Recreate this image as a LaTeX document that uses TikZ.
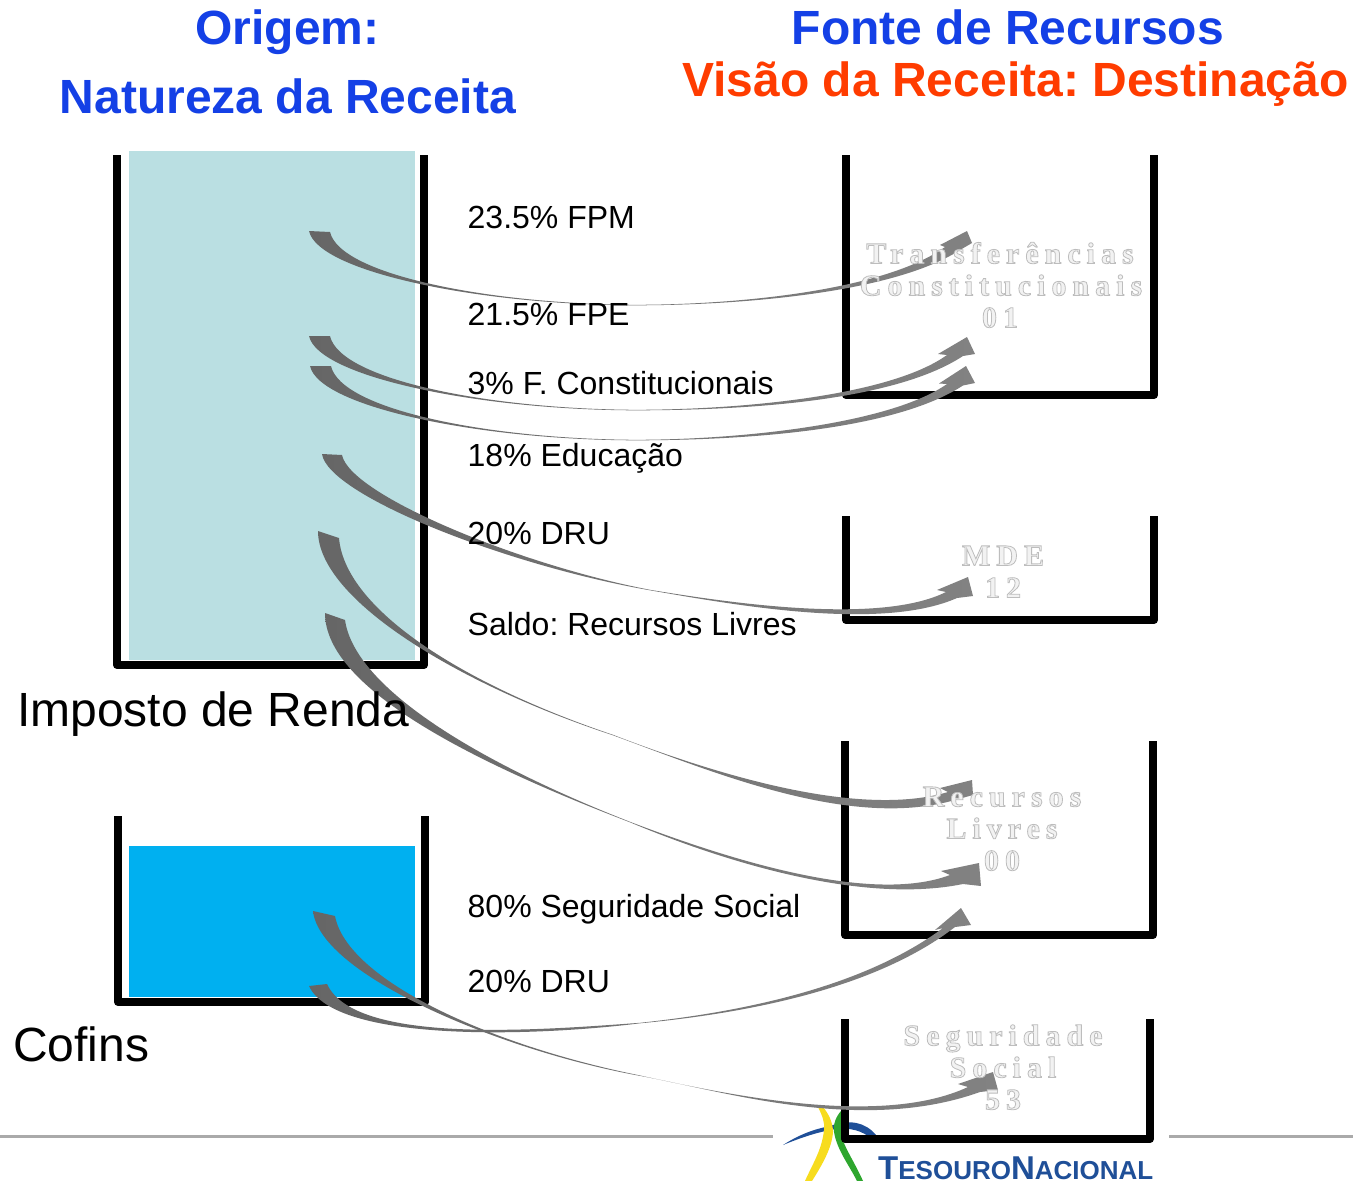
\documentclass[tikz,border=0pt]{standalone}
\usepackage{fontspec}
\setmainfont{Liberation Sans}
\newfontfamily\fundfam{Liberation Serif}[LetterSpace=20]
\AtBeginDocument{\frenchspacing}
\definecolor{titleblue}{HTML}{1440E6}
\definecolor{titlered}{HTML}{FF3C00}
\definecolor{tealfill}{HTML}{BADFE2}
\definecolor{cyanfill}{HTML}{00B0F0}
\definecolor{flowdark}{HTML}{666666}
\definecolor{flowlight}{HTML}{828282}
\definecolor{rulegray}{HTML}{AAAAAA}
\definecolor{logoblue}{HTML}{1F4F98}
\definecolor{logoyellow}{HTML}{F7DC1E}
\definecolor{logogreen}{HTML}{2EA62E}
\newcommand{\embossed}[1]{\special{pdf:code 2 Tr 0.8 w 0.74 G 0.95 g}#1\special{pdf:code 0 Tr 0 G 0 g}}
\tikzset{
  x=1pt,y=-1pt,
  bucket/.style={draw=black,line width=8pt,line join=round,line cap=butt,fill=none},
  flow/.style={left color=flowdark,right color=flowlight,draw=none},
  titletext/.style={anchor=base,inner sep=0pt,font=\fontsize{48}{48}\bfseries\selectfont},
  bigtext/.style={anchor=base west,inner sep=0pt,font=\fontsize{48}{48}\selectfont},
  share/.style={anchor=base west,inner sep=0pt,font=\fontsize{32}{32}\selectfont},
  fundo/.style={anchor=base,inner sep=0pt,font=\fundfam\bfseries\fontsize{30}{32}\selectfont},
}
\begin{document}
\begin{tikzpicture}
\useasboundingbox (0,0) rectangle (1353,1181);
\fill[white] (0,0) rectangle (1353,1181);
% fills
\fill[tealfill] (129,151) rectangle (415,660);
\fill[cyanfill] (129,846) rectangle (415,997);
% footer
\draw[rulegray,line width=3pt] (0,1136) -- (773,1136);
\draw[rulegray,line width=3pt] (1169,1136) -- (1353,1136);
% logo
\fill[logoblue] (783,1145) .. controls (800,1134) and (815,1129) .. (830,1126) .. controls (850,1119) and (865,1122) .. (876,1135) -- (868,1136) .. controls (858,1129) and (845,1127) .. (830,1130) .. controls (815,1133) and (800,1138) .. cycle;
\fill[logoyellow] (818,1107) .. controls (822,1115) and (825,1122) .. (824,1130) .. controls (822,1150) and (812,1165) .. (805,1181) -- (812,1181) .. controls (822,1165) and (832,1148) .. (833,1132) .. controls (833,1122) and (828,1113) .. (823,1107) -- cycle;
\fill[logogreen] (842,1110) .. controls (836,1116) and (833,1124) .. (834,1132) .. controls (837,1150) and (849,1165) .. (857,1181) -- (863,1181) .. controls (856,1165) and (846,1150) .. (842,1138) .. controls (840,1128) and (841,1120) .. (845,1112) -- cycle;
\node[anchor=base west,inner sep=0pt,text=logoblue,font=\bfseries] (logotext) at (878,1179) {\fontsize{33}{34}\selectfont T\fontsize{26}{27}\selectfont ESOURO\fontsize{33}{34}\selectfont N\fontsize{26}{27}\selectfont ACIONAL};
% buckets
\draw[bucket] (117,155) -- (117,665) -- (424,665) -- (424,155);
\draw[bucket] (118,816) -- (118,1002) -- (425,1002) -- (425,816);
\draw[bucket] (846,155) -- (846,395) -- (1154,395) -- (1154,155);
\draw[bucket] (846,516) -- (846,620) -- (1154,620) -- (1154,516);
\draw[bucket] (845,741) -- (845,935) -- (1153,935) -- (1153,741);
\draw[bucket] (845,1019) -- (845,1139) -- (1150,1139) -- (1150,1019);
% flows
\path[flow] (309,231) .. controls (318,272) and (480,305) .. (635,305.3) .. controls (730,305.3) and (890,295) .. (960,250) -- (972,243) -- (967,231) -- (940,245) -- (945,247) .. controls (885,290) and (740,304.8) .. (635,304.8) .. controls (490,304) and (340,275) .. (330,232) -- cycle;
\path[flow] (309,336) .. controls (318,377) and (480,410) .. (635,410.3) .. controls (730,410.3) and (890,404) .. (963,356) -- (975,354) -- (967,337) -- (938,354) -- (947,355) .. controls (890,396) and (740,409.8) .. (635,409.8) .. controls (490,409) and (340,380) .. (330,336) -- cycle;
\path[flow] (310,366) .. controls (319,407) and (480,440) .. (635,440.3) .. controls (730,440.3) and (890,433) .. (963,385.5) -- (975,383) -- (966,366) -- (939,383.5) -- (947,384) .. controls (890,424) and (740,439.8) .. (635,439.8) .. controls (490,439) and (341,410) .. (331,366) -- cycle;
\path[flow] (322,454) .. controls (328,495) and (505,565) .. (650,590.3) .. controls (730,604) and (880,632) .. (957,598) -- (973,596) -- (968,577) -- (937,590) -- (946,592) .. controls (880,625) and (730,603) .. (650,589.8) .. controls (520,565) and (350,495) .. (342,455) -- cycle;
\path[flow] (318,531) .. controls (318,600) and (460,685) .. (613,735.3) .. controls (713,772) and (850,830) .. (955,800) -- (973,795) -- (972,780) -- (940,788) -- (948,792) .. controls (860,818) and (720,776) .. (613,734.8) .. controls (465,685) and (345,610) .. (339,538) -- cycle;
\path[flow] (325,613) .. controls (325,690) and (480,765) .. (630,822.3) .. controls (720,860) and (860,905) .. (963,884) -- (981,886) -- (979,863) -- (941,871) -- (950,875) .. controls (870,905) and (725,858) .. (630,821.8) .. controls (485,765) and (355,690) .. (345,620) -- cycle;
\path[flow] (309,986) .. controls (335,1042) and (530,1037) .. (640,1023.3) .. controls (760,1012) and (880,985) .. (955,927) -- (971,925) -- (961,908) -- (935,930) -- (943,928) .. controls (870,982) and (760,1010) .. (640,1022.8) .. controls (540,1030) and (355,1045) .. (327,984) -- cycle;
\path[flow] (313,911) .. controls (320,975) and (500,1050) .. (637,1075.3) .. controls (720,1090) and (860,1135) .. (980,1092) -- (998,1090) -- (993,1072) -- (958,1084) -- (968,1087) .. controls (880,1128) and (725,1094) .. (637,1074.8) .. controls (490,1045) and (347,980) .. (335,916) -- cycle;
% titles
\node[titletext,text=titleblue] (t1) at (287.5,44) {Origem:};
\node[titletext,text=titleblue] (t2) at (288,113) {Natureza da Receita};
\node[titletext,text=titleblue] (t3) at (1008,44) {Fonte de Recursos};
\node[titletext,text=titlered] (t4) at (1015.5,96) {Visão da Receita: Destinação};
% sources
\node[bigtext] (ir) at (17,726) {Imposto de Renda};
\node[bigtext] (cof) at (13,1061) {Cofins};
% shares
\node[share] (s1) at (467.5,228) {23.5\% FPM};
\node[share] (s2) at (467.5,325) {21.5\% FPE};
\node[share] (s3) at (467.5,394) {3\% F. Constitucionais};
\node[share] (s4) at (467.5,466) {18\% Educação};
\node[share] (s5) at (467.5,544) {20\% DRU};
\node[share] (s6) at (467.5,635) {Saldo: Recursos Livres};
\node[share] (s7) at (467.5,917) {80\% Seguridade Social};
\node[share] (s8) at (467.5,992) {20\% DRU};
% embossed fund names
\node[fundo] (f1a) at (1000,263.5) {\embossed{Transferências}};
\node[fundo] (f1b) at (1001,295.5) {\embossed{Constitucionais}};
\node[fundo] (f1c) at (1000,327.5) {\embossed{01}};
\node[fundo] (f2a) at (1003,565.5) {\embossed{MDE}};
\node[fundo] (f2b) at (1003,597.5) {\embossed{12}};
\node[fundo] (f3a) at (1002,806.5) {\embossed{Recursos}};
\node[fundo] (f3b) at (1002,838.5) {\embossed{Livres}};
\node[fundo] (f3c) at (1002,870.5) {\embossed{00}};
\node[fundo] (f4a) at (1003,1045.5) {\embossed{Seguridade}};
\node[fundo] (f4b) at (1003,1077.5) {\embossed{Social}};
\node[fundo] (f4c) at (1003,1109.5) {\embossed{53}};
\end{tikzpicture}
\end{document}
